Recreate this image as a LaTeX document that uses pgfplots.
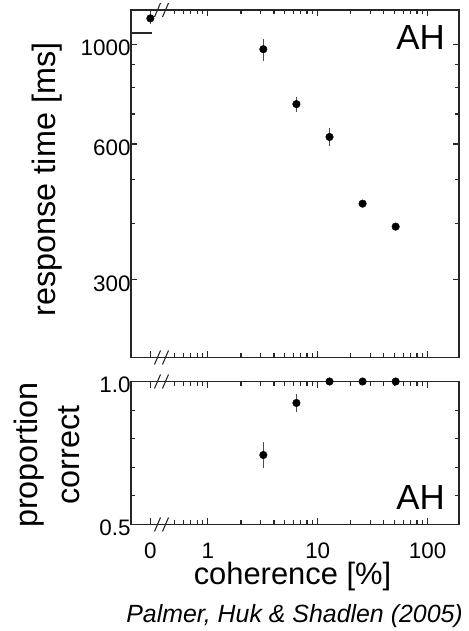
\documentclass[border=0pt]{standalone}
\usepackage{fontspec}
\setmainfont{Liberation Sans}
\usepackage{pgfplots}
\pgfplotsset{compat=1.18}
\begin{document}
\begin{tikzpicture}
\useasboundingbox (0bp,0bp) rectangle (469bp,631bp);
\begin{axis}[scale only axis, width=328bp, height=347.5bp, at={(131bp,273.5bp)}, anchor=south west,
  xmode=log, xmin=0.2, xmax=193,
  axis line style={draw=black!85, line width=1.7bp},
  tick style={draw=black!85, line width=1.2bp},
  major tick length=6bp, minor tick length=4bp,
  tick align=inside,
  xtick={0.3,1,10,100},
  minor xtick={0.5,0.6,0.7,0.8,0.9,2,3,4,5,6,7,8,9,20,30,40,50,60,70,80,90},
  ticklabel style={font=\fontsize{22.5}{26}\selectfont},
  yticklabel style={yshift=-4bp, xshift=3bp},
  clip=false,
  ymode=log, ymin=201, ymax=1192, ytick={300,600,1000}, yticklabels={300,600,1000},
  minor ytick={400,500,700,800,900}, xticklabels={}]
\addplot[only marks, mark=*, mark size=3.8bp, black, mark options={draw=black, fill=black},
   error bars/.cd, y dir=both, y explicit, error mark=none, error bar style={line width=0.9bp, black!70}]
 table[x=x,y=y,y error=e] {
x y e
0.3 1142 35
3.2 975 55
6.4 736 28
12.8 622 29
25.6 442 7
51.2 393 6
};
\end{axis}
\begin{axis}[scale only axis, width=328bp, height=143bp, at={(131bp,106.5bp)}, anchor=south west,
  xmode=log, xmin=0.2, xmax=193,
  axis line style={draw=black!85, line width=1.7bp},
  tick style={draw=black!85, line width=1.2bp},
  major tick length=6bp, minor tick length=4bp,
  tick align=inside,
  xtick={0.3,1,10,100},
  minor xtick={0.5,0.6,0.7,0.8,0.9,2,3,4,5,6,7,8,9,20,30,40,50,60,70,80,90},
  ticklabel style={font=\fontsize{22.5}{26}\selectfont},
  yticklabel style={yshift=-3bp, xshift=3bp},
  xticklabel style={inner sep=0pt, yshift=-18.5bp},
  clip=false,
  ymin=0.5, ymax=1.0, ytick={0.5,1.0}, yticklabels={0.5,1.0},
  minor ytick={0.6,0.7,0.8,0.9}, xticklabels={0,1,10,100}]
\addplot[only marks, mark=*, mark size=3.8bp, black, mark options={draw=black, fill=black},
   error bars/.cd, y dir=both, y explicit, error mark=none, error bar style={line width=0.9bp, black!70}]
 table[x=x,y=y,y error=e] {
x y e
3.2 0.743 0.044
6.4 0.925 0.03
12.8 1.0 0
25.6 1.0 0
51.2 1.0 0
};
\end{axis}
% axis breaks
\draw[black!85, line width=1.1bp] (154.5bp,614bp) -- (160.5bp,628bp);
\draw[black!85, line width=1.1bp] (162.5bp,614bp) -- (168.5bp,628bp);
\draw[black!85, line width=1.1bp] (154.5bp,266.5bp) -- (160.5bp,280.5bp);
\draw[black!85, line width=1.1bp] (162.5bp,266.5bp) -- (168.5bp,280.5bp);
\draw[black!85, line width=1.1bp] (154.5bp,242.5bp) -- (160.5bp,256.5bp);
\draw[black!85, line width=1.1bp] (162.5bp,242.5bp) -- (168.5bp,256.5bp);
\draw[black!85, line width=1.1bp] (154.5bp,99.5bp) -- (160.5bp,113.5bp);
\draw[black!85, line width=1.1bp] (162.5bp,99.5bp) -- (168.5bp,113.5bp);
\draw[black!85, line width=1.7bp] (131bp,597.7bp) -- (152bp,597.7bp);
% labels
\node[rotate=90, anchor=base, font=\fontsize{32.5}{38}\selectfont] at (55bp,451.5bp) {response time [ms]};
\node[rotate=90, anchor=base, font=\fontsize{32.5}{38}\selectfont] at (37bp,176bp) {proportion};
\node[rotate=90, anchor=base, font=\fontsize{32.5}{38}\selectfont] at (79bp,176bp) {correct};
\node[anchor=base, font=\fontsize{31}{36}\selectfont, inner sep=0pt] at (292.5bp,46bp) {coherence [\%]};
\node[anchor=base east, font=\fontsize{25}{30}\selectfont\itshape, inner sep=0pt] at (463bp,8.3bp) {Palmer, Huk \& Shadlen (2005)};
\node[anchor=base east, font=\fontsize{35}{40}\selectfont, inner sep=0pt] at (445bp,581bp) {AH};
\node[anchor=base east, font=\fontsize{35}{40}\selectfont, inner sep=0pt] at (445bp,121bp) {AH};
\end{tikzpicture}
\end{document}
